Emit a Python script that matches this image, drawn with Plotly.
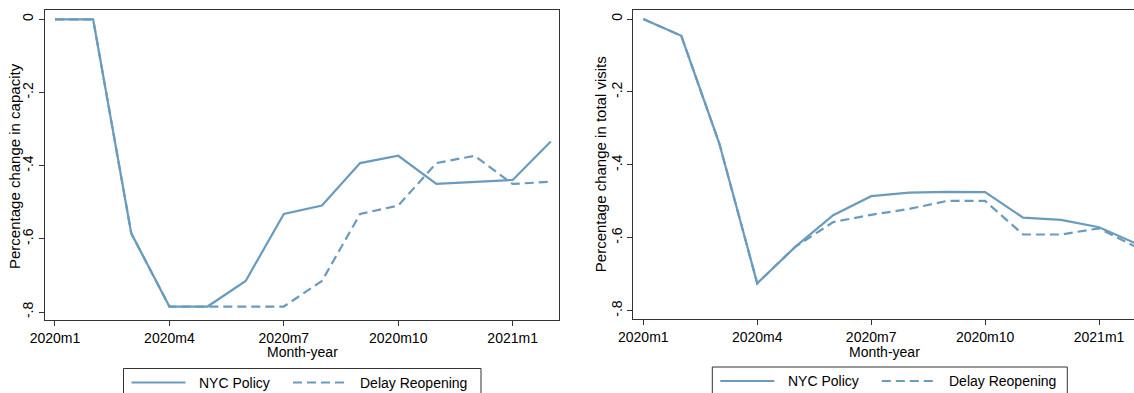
import plotly.graph_objects as go

# Monthly index, Jan 2020 through Feb 2021
months = ["2020m1", "2020m2", "2020m3", "2020m4", "2020m5", "2020m6", "2020m7",
          "2020m8", "2020m9", "2020m10", "2020m11", "2020m12", "2021m1", "2021m2"]
month_idx = list(range(len(months)))

# Percentage change in capacity
capacity_nyc = [0.0, 0.0, -0.585, -0.785, -0.785, -0.715, -0.532,
                -0.509, -0.393, -0.373, -0.450, -0.444, -0.439, -0.334]
capacity_delay = [0.0, 0.0, -0.585, -0.785, -0.785, -0.785, -0.785,
                  -0.715, -0.532, -0.509, -0.393, -0.373, -0.450, -0.444]

# Percentage change in total visits
visits_nyc = [0.0, -0.046, -0.341, -0.725, -0.625, -0.538, -0.486,
              -0.476, -0.474, -0.475, -0.545, -0.551, -0.571, -0.617]
visits_delay = [0.0, -0.046, -0.341, -0.725, -0.625, -0.557, -0.537,
                -0.521, -0.499, -0.499, -0.591, -0.591, -0.574, -0.627]

x_tick_idx = [0, 3, 6, 9, 12]
x_tick_text = [months[i] for i in x_tick_idx]
y_tick_vals = [0, -0.2, -0.4, -0.6, -0.8]
y_tick_text = ["0", "-.2", "-.4", "-.6", "-.8"]

series_names = ["NYC Policy", "Delay Reopening"]

LINE = "#6a9bbd"
AXIS = "#333333"
FONT = "Liberation Sans, Arial, sans-serif"
W, H = 1134, 393
DASH = "9px,5px"


def px_x(p):
    return p / W


def px_y(p):
    return 1 - p / H


fig = go.Figure()

panels = [
    ("x", "y", capacity_nyc, capacity_delay),
    ("x2", "y2", visits_nyc, visits_delay),
]
for xa, ya, nyc, delay in panels:
    fig.add_trace(go.Scatter(x=month_idx, y=nyc, mode="lines", name=series_names[0],
                             xaxis=xa, yaxis=ya,
                             line=dict(color=LINE, width=2.2)))
    fig.add_trace(go.Scatter(x=month_idx, y=delay, mode="lines", name=series_names[1],
                             xaxis=xa, yaxis=ya,
                             line=dict(color=LINE, width=2.2, dash=DASH)))

common_x = dict(tickmode="array", tickvals=x_tick_idx, ticktext=x_tick_text,
                ticks="outside", ticklen=5, tickcolor=AXIS, tickwidth=1,
                showline=True, linecolor=AXIS, linewidth=1,
                showgrid=False, zeroline=False, automargin=False,
                tickfont=dict(family=FONT, size=14, color="black"))
common_y = dict(tickmode="array", tickvals=y_tick_vals, ticktext=y_tick_text,
                tickangle=-90, ticks="outside", ticklen=5, tickcolor=AXIS, tickwidth=1,
                showline=True, linecolor=AXIS, linewidth=1,
                showgrid=False, zeroline=False, automargin=False,
                tickfont=dict(family=FONT, size=14, color="black"))

fig.update_layout(
    width=W, height=H,
    margin=dict(l=0, r=0, t=0, b=0, autoexpand=False),
    paper_bgcolor="white", plot_bgcolor="white",
    showlegend=False,
    xaxis=dict(domain=[px_x(45), px_x(559)], range=[-0.262, 13.215],
               mirror=True, anchor="y", **common_x),
    yaxis=dict(domain=[px_y(320), px_y(10)], range=[-0.8218, 0.0254],
               mirror=True, anchor="x", **common_y),
    xaxis2=dict(domain=[px_x(633.3), 1.0], range=[-0.263, 12.92],
                mirror=True, anchor="y2", **common_x),
    yaxis2=dict(domain=[px_y(319), px_y(10)], range=[-0.8228, 0.0247],
                mirror=False, anchor="x2", **common_y),
)

annotations = []
# x-axis titles
for cx in (302, 884):
    annotations.append(dict(text="Month-year", x=px_x(cx), y=px_y(352),
                            xref="paper", yref="paper", showarrow=False,
                            xanchor="center", yanchor="middle",
                            font=dict(family=FONT, size=14, color="black")))
# y-axis titles
for cx, ytitle, cy in [(14, "Percentage change in capacity", 166),
                       (600.7, "Percentage change in total visits", 164.5)]:
    annotations.append(dict(text=ytitle, x=px_x(cx), y=px_y(cy),
                            xref="paper", yref="paper", showarrow=False,
                            textangle=-90, xanchor="center", yanchor="middle",
                            font=dict(family=FONT, size=15, color="black")))

# Legend boxes below each panel
shapes = []
for left, right, top in [(123.5, 481, 368.5), (712.3, 1067.3, 367)]:
    ly = top + 14
    shapes.append(dict(type="rect", xref="paper", yref="paper",
                       x0=px_x(left), x1=px_x(right), y0=px_y(top), y1=px_y(H + 20),
                       line=dict(color=AXIS, width=1), fillcolor="white", layer="below"))
    shapes.append(dict(type="line", xref="paper", yref="paper",
                       x0=px_x(left + 8), x1=px_x(left + 62), y0=px_y(ly), y1=px_y(ly),
                       line=dict(color=LINE, width=2.2)))
    shapes.append(dict(type="line", xref="paper", yref="paper",
                       x0=px_x(left + 169.5), x1=px_x(left + 224.5), y0=px_y(ly), y1=px_y(ly),
                       line=dict(color=LINE, width=2.2, dash=DASH)))
    annotations.append(dict(text=series_names[0], x=px_x(left + 73.5), y=px_y(ly),
                            xref="paper", yref="paper", showarrow=False,
                            xanchor="left", yanchor="middle",
                            font=dict(family=FONT, size=14, color="black")))
    annotations.append(dict(text=series_names[1], x=px_x(left + 234.5), y=px_y(ly),
                            xref="paper", yref="paper", showarrow=False,
                            xanchor="left", yanchor="middle",
                            font=dict(family=FONT, size=14, color="black")))

fig.update_layout(annotations=annotations, shapes=shapes)

fig.write_html("out.html")
